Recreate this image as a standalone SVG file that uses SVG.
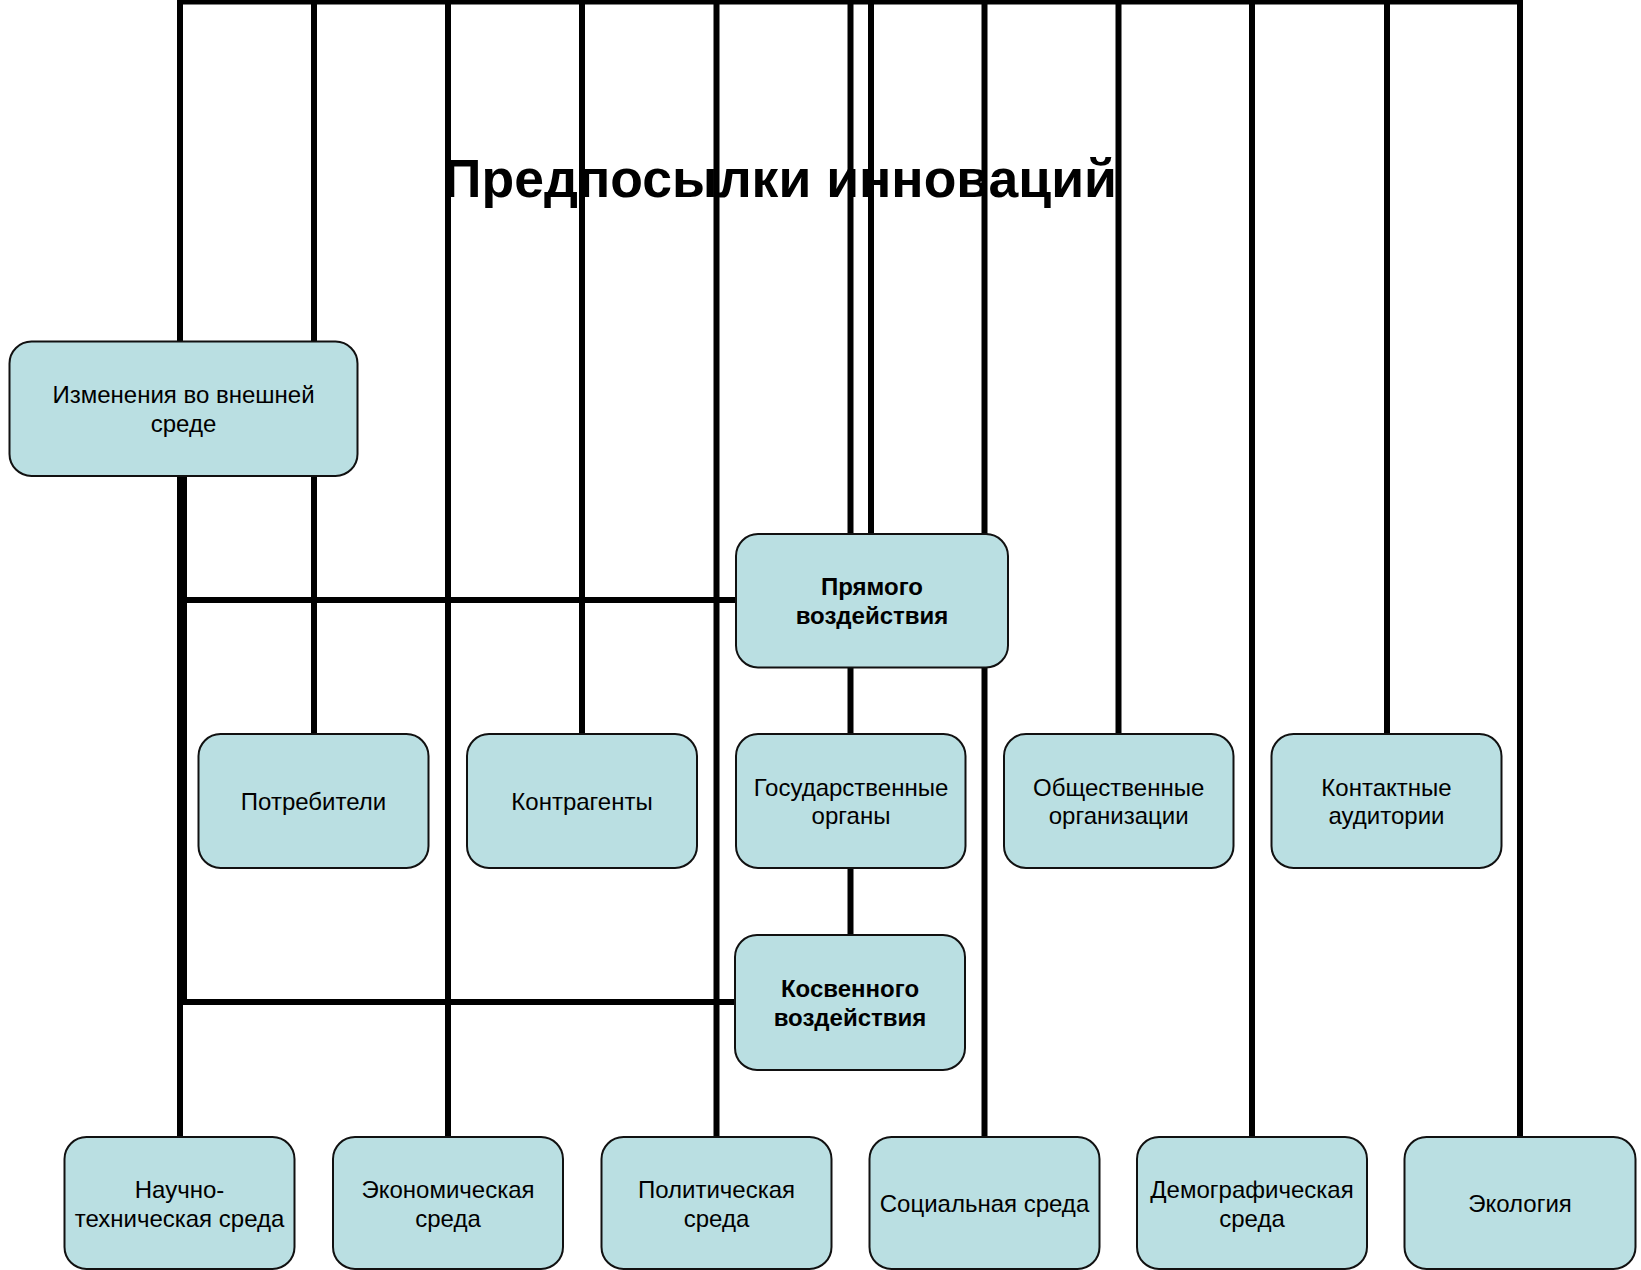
<svg xmlns="http://www.w3.org/2000/svg" width="1641" height="1270" viewBox="0 0 1641 1270">
<style>
.box{fill:#badfe2;stroke:#111;stroke-width:2}
.t{font-family:"Liberation Sans",Arial,sans-serif;font-size:24px;fill:#000;text-anchor:middle}
.b{font-weight:bold}
.c{fill:none;stroke:#000;stroke-width:6;stroke-linecap:butt;stroke-linejoin:miter}
</style>
<rect width="1641" height="1270" fill="#fff"/>
<g id="connectors">
<path class="c" d="M180,341 V1.5 H1520 V1137"/>
<path class="c" d="M314,1.5 V734"/>
<path class="c" d="M448,1.5 V1137"/>
<path class="c" d="M582,1.5 V734"/>
<path class="c" d="M716.5,1.5 V1137"/>
<path class="c" d="M850.5,1.5 V935"/>
<path class="c" d="M871,1.5 V534"/>
<path class="c" d="M984.5,1.5 V1137"/>
<path class="c" d="M1118.5,1.5 V734"/>
<path class="c" d="M1252,1.5 V1137"/>
<path class="c" d="M1387,1.5 V734"/>
<path class="c" d="M180,476 V1137"/>
<path class="c" d="M184,476 V1005"/>
<path class="c" d="M184,600 H736"/>
<path class="c" d="M184,1002 H735"/>
</g>
<text x="780" y="197" font-family="Liberation Sans,Arial,sans-serif" font-size="53.5" font-weight="bold" text-anchor="middle">Предпосылки инноваций</text>
<g id="n_izm"><rect class="box" x="9.5" y="341.5" width="348" height="134.5" rx="22"/><text class="t" x="183.5" y="403">Изменения во внешней</text><text class="t" x="183.5" y="431.5">среде</text></g>
<g id="n_pryam"><rect class="box" x="736" y="534" width="272" height="133.5" rx="22"/><text class="t b" x="872" y="594.5">Прямого</text><text class="t b" x="872" y="623.5">воздействия</text></g>
<g id="n_potr"><rect class="box" x="198.5" y="734" width="230" height="134" rx="22"/><text class="t" x="313.5" y="809.5">Потребители</text></g>
<g id="n_kontr"><rect class="box" x="467" y="734" width="230" height="134" rx="22"/><text class="t" x="582" y="809.5">Контрагенты</text></g>
<g id="n_gos"><rect class="box" x="736" y="734" width="229.5" height="134" rx="22"/><text class="t" x="851" y="795.5">Государственные</text><text class="t" x="851" y="823.5">органы</text></g>
<g id="n_obsh"><rect class="box" x="1004" y="734" width="229.5" height="134" rx="22"/><text class="t" x="1118.7" y="795.5">Общественные</text><text class="t" x="1118.7" y="823.5">организации</text></g>
<g id="n_kontakt"><rect class="box" x="1271.5" y="734" width="230" height="134" rx="22"/><text class="t" x="1386.5" y="795.5">Контактные</text><text class="t" x="1386.5" y="823.5">аудитории</text></g>
<g id="n_kosv"><rect class="box" x="735" y="935" width="230" height="135" rx="22"/><text class="t b" x="850" y="996.5">Косвенного</text><text class="t b" x="850" y="1025.5">воздействия</text></g>
<g id="n_nauch"><rect class="box" x="64.5" y="1137" width="230" height="132" rx="22"/><text class="t" x="179.5" y="1197.5">Научно-</text><text class="t" x="179.5" y="1226.5">техническая среда</text></g>
<g id="n_ekon"><rect class="box" x="333" y="1137" width="230" height="132" rx="22"/><text class="t" x="448" y="1197.5">Экономическая</text><text class="t" x="448" y="1226.5">среда</text></g>
<g id="n_polit"><rect class="box" x="601.5" y="1137" width="230" height="132" rx="22"/><text class="t" x="716.5" y="1197.5">Политическая</text><text class="t" x="716.5" y="1226.5">среда</text></g>
<g id="n_soc"><rect class="box" x="869.5" y="1137" width="230" height="132" rx="22"/><text class="t" x="984.5" y="1211.5">Социальная среда</text></g>
<g id="n_demo"><rect class="box" x="1137" y="1137" width="230" height="132" rx="22"/><text class="t" x="1252" y="1197.5">Демографическая</text><text class="t" x="1252" y="1226.5">среда</text></g>
<g id="n_ekol"><rect class="box" x="1404.5" y="1137" width="231" height="132" rx="22"/><text class="t" x="1520" y="1211.5">Экология</text></g>
</svg>
